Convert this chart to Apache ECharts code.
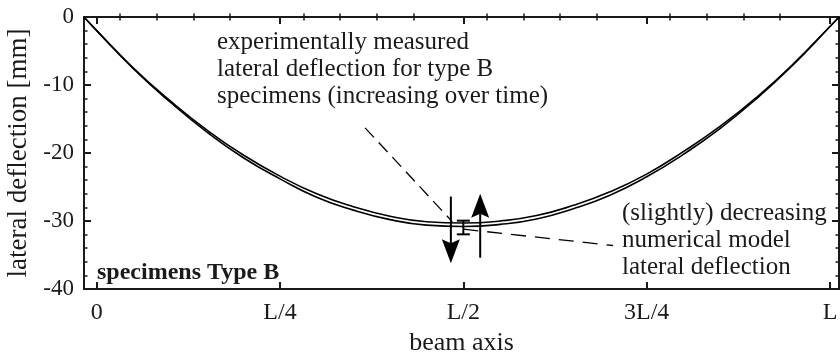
<!DOCTYPE html>
<html>
<head>
<meta charset="utf-8">
<script src="https://cdn.jsdelivr.net/npm/echarts@6.0.0/dist/echarts.min.js"></script>
<style>
  html, body { margin: 0; padding: 0; background: #fff; }
  #chart { width: 840px; height: 354px; }
</style>
</head>
<body>
<div id="chart"></div>
<script>
// beam axis position (in units of L) and the two deflection curves [mm]
const beamPos    = [-0.0173, 0, 0.05, 0.1, 0.15, 0.2, 0.25, 0.3, 0.35, 0.4, 0.45, 0.5,
                    0.55, 0.6, 0.65, 0.7, 0.75, 0.8, 0.85, 0.9, 0.95, 1.0, 1.0123];
const deflUpper  = [0, -2.0, -7.5, -12.3, -16.6, -20.3, -23.4, -26.0, -27.9, -29.3, -30.1, -30.3,
                    -30.0, -29.2, -27.7, -25.7, -23.1, -19.8, -16.1, -11.8, -6.9, -1.4, 0];
const deflLower  = [0, -2.0, -7.6, -12.5, -16.9, -20.7, -23.8, -26.5, -28.4, -29.8, -30.6, -30.8,
                    -30.5, -29.7, -28.2, -26.2, -23.5, -20.2, -16.4, -12.0, -7.0, -1.4, 0];

// measured deflection range at midspan: [x, top, bottom]
const measured   = [[0.5, -29.95, -31.96]];

// trend arrows: [x, from, tip]
const arrows     = [[0.483, -26.4, -36.2], [0.523, -35.4, -26.0]];

// dashed leader lines: [[x1, y1], [x2, y2]]
const leaderExp  = [[0.366, -16.3], [0.485, -30.1]];
const leaderNum  = [[0.500, -31.2], [0.704, -33.6]];

const xTickValues = [0, 0.25, 0.5, 0.75, 1];
const xTickLabels = ['0', 'L/4', 'L/2', '3L/4', 'L'];
const xMinorTicks = [0.0318, 0.0818, 0.1318, 0.1818, 0.2818, 0.3318, 0.3818, 0.4318,
                     0.5318, 0.5818, 0.6318, 0.6818, 0.7818, 0.8318, 0.8818, 0.9318];

const FONT = '"Liberation Serif", "Times New Roman", serif';
const INK = '#1a1a1a';

const xMin = -0.0173, xMax = 1.0123;

const chart = echarts.init(document.getElementById('chart'));

const baseX = {
  type: 'value', min: xMin, max: xMax,
  splitLine: { show: false }
};

chart.setOption({
  animation: false,
  backgroundColor: '#fff',
  grid: { left: 84, right: 1, top: 17, bottom: 65, containLabel: false, outerBoundsMode: 'none' },
  xAxis: [
    Object.assign({}, baseX, {
      position: 'bottom',
      name: 'beam axis', nameLocation: 'middle', nameGap: 37,
      nameTextStyle: { fontFamily: FONT, fontSize: 26, color: INK },
      axisLine: { show: true, onZero: false, lineStyle: { color: INK, width: 2 } },
      axisTick: { show: true, inside: true, length: 7, customValues: xTickValues,
                  lineStyle: { color: INK, width: 2 } },
      axisLabel: { show: true, customValues: xTickValues, margin: 12,
                   fontFamily: FONT, fontSize: 24, color: INK,
                   formatter: v => xTickLabels[xTickValues.indexOf(v)] }
    }),
    Object.assign({}, baseX, {
      position: 'bottom',
      axisLine: { show: false },
      axisTick: { show: true, inside: true, length: 3.5, customValues: xMinorTicks,
                  lineStyle: { color: INK, width: 1.5 } },
      axisLabel: { show: false }
    }),
    Object.assign({}, baseX, {
      position: 'top',
      axisLine: { show: true, onZero: false, lineStyle: { color: INK, width: 2 } },
      axisTick: { show: true, inside: true, length: 7, customValues: xTickValues,
                  lineStyle: { color: INK, width: 2 } },
      axisLabel: { show: false }
    }),
    Object.assign({}, baseX, {
      position: 'top',
      axisLine: { show: false },
      axisTick: { show: true, inside: true, length: 3.5, customValues: xMinorTicks,
                  lineStyle: { color: INK, width: 1.5 } },
      axisLabel: { show: false }
    })
  ],
  yAxis: [
    {
      type: 'value', min: -40, max: 0, interval: 10, position: 'left',
      name: 'lateral deflection [mm]', nameLocation: 'middle', nameGap: 50,
      nameTextStyle: { fontFamily: FONT, fontSize: 27, color: INK },
      axisLine: { show: true, onZero: false, lineStyle: { color: INK, width: 2 } },
      axisTick: { show: true, inside: true, length: 7, lineStyle: { color: INK, width: 2 } },
      minorTick: { show: true, splitNumber: 5, length: 3.5, lineStyle: { color: INK, width: 1.5 } },
      axisLabel: { margin: 10, fontFamily: FONT, fontSize: 23, color: INK },
      splitLine: { show: false }
    },
    {
      type: 'value', min: -40, max: 0, interval: 10, position: 'right',
      axisLine: { show: true, onZero: false, lineStyle: { color: INK, width: 2 } },
      axisTick: { show: true, inside: true, length: 7, lineStyle: { color: INK, width: 2 } },
      minorTick: { show: true, splitNumber: 5, length: 3.5, lineStyle: { color: INK, width: 1.5 } },
      axisLabel: { show: false },
      splitLine: { show: false }
    }
  ],
  series: [
    {
      type: 'line', xAxisIndex: 0, yAxisIndex: 0,
      data: beamPos.map((x, i) => [x, deflUpper[i]]),
      smooth: true, showSymbol: false, silent: true,
      lineStyle: { color: '#000', width: 1.6 },
      markLine: {
        silent: true, animation: false,
        symbol: 'none',
        label: { show: false },
        emphasis: { disabled: true },
        lineStyle: { color: '#000', width: 1.3 },
        data: [
          [{ coord: leaderExp[0], lineStyle: { type: [13, 7] } }, { coord: leaderExp[1] }],
          [{ coord: leaderNum[0], lineStyle: { type: [15, 9] } }, { coord: leaderNum[1] }]
        ]
      }
    },
    {
      type: 'line', xAxisIndex: 0, yAxisIndex: 0,
      data: beamPos.map((x, i) => [x, deflLower[i]]),
      smooth: true, showSymbol: false, silent: true,
      lineStyle: { color: '#000', width: 1.6 }
    },
    {
      // error bar of the measurement
      type: 'custom', xAxisIndex: 0, yAxisIndex: 0, silent: true,
      data: measured,
      renderItem: (params, api) => {
        const x = api.value(0);
        const p1 = api.coord([x, api.value(1)]);
        const p2 = api.coord([x, api.value(2)]);
        const hw = 6.5;
        const st = { stroke: '#000', lineWidth: 2 };
        return {
          type: 'group',
          children: [
            { type: 'line', shape: { x1: p1[0], y1: p1[1], x2: p2[0], y2: p2[1] }, style: st },
            { type: 'line', shape: { x1: p1[0] - hw, y1: p1[1], x2: p1[0] + hw, y2: p1[1] }, style: st },
            { type: 'line', shape: { x1: p2[0] - hw, y1: p2[1], x2: p2[0] + hw, y2: p2[1] }, style: st }
          ]
        };
      }
    },
    {
      // up/down trend arrows
      type: 'custom', xAxisIndex: 0, yAxisIndex: 0, silent: true,
      data: arrows,
      renderItem: (params, api) => {
        const x = api.value(0);
        const a = api.coord([x, api.value(1)]);
        const b = api.coord([x, api.value(2)]);
        const dir = b[1] > a[1] ? 1 : -1;
        const len = 24, hw = 9, notch = 4;
        const baseY = b[1] - dir * len;
        return {
          type: 'group',
          children: [
            { type: 'line', shape: { x1: a[0], y1: a[1], x2: b[0], y2: baseY + dir * notch },
              style: { stroke: '#000', lineWidth: 2 } },
            { type: 'polygon',
              shape: { points: [[b[0], b[1]], [b[0] + hw, baseY], [b[0], baseY + dir * notch], [b[0] - hw, baseY]] },
              style: { fill: '#000' } }
          ]
        };
      }
    }
  ],
  graphic: [
    {
      type: 'text', left: 217, top: 29,
      style: {
        text: 'experimentally measured\nlateral deflection for type B\nspecimens (increasing over time)',
        font: '25px ' + FONT, lineHeight: 27, fill: INK
      }
    },
    {
      type: 'text', left: 622, top: 200,
      style: {
        text: '(slightly) decreasing\nnumerical model\nlateral deflection',
        font: '25px ' + FONT, lineHeight: 27, fill: INK
      }
    },
    {
      type: 'text', left: 97, top: 261,
      style: { text: 'specimens Type B', font: 'bold 24px ' + FONT, fill: INK }
    }
  ]
});
</script>
</body>
</html>
